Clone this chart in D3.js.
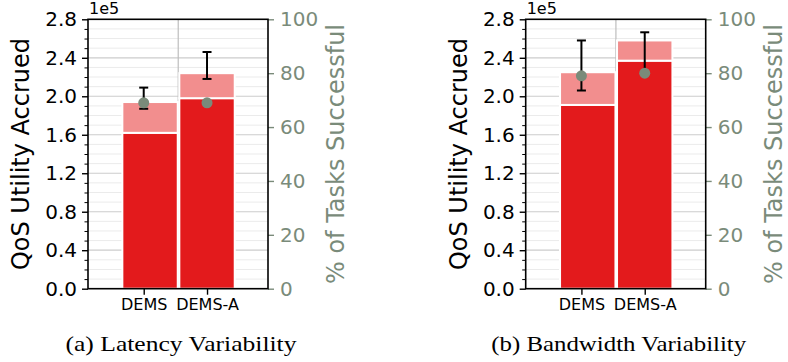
<!DOCTYPE html>
<html>
<head>
<meta charset="utf-8">
<script src="https://cdn.jsdelivr.net/npm/d3@7"></script>
<style>
  html, body { margin: 0; padding: 0; background: #fff; }
  svg { display: block; }
</style>
</head>
<body>
<svg id="chart" width="788" height="362"></svg>
<script>
// ---- data (utility in units of 1e5, success rate in %) ----
const categories = ["DEMS", "DEMS-A"];

const latencyUtilityBase  = [1.62, 1.98];
const latencyUtilityTotal = [1.94, 2.24];
const latencyErrLow       = [1.87, 2.18];
const latencyErrHigh      = [2.09, 2.46];
const latencySuccessPct   = [69, 69];

const bandwidthUtilityBase  = [1.91, 2.37];
const bandwidthUtilityTotal = [2.25, 2.58];
const bandwidthErrLow       = [2.06, 2.25];
const bandwidthErrHigh      = [2.58, 2.665];
const bandwidthSuccessPct   = [79, 80];

const utilityTicks = [0, 0.4, 0.8, 1.2, 1.6, 2.0, 2.4, 2.8];
const pctTicks = [0, 20, 40, 60, 80, 100];

const panels = [
  { caption: "(a) Latency Variability", base: latencyUtilityBase, total: latencyUtilityTotal,
    lo: latencyErrLow, hi: latencyErrHigh, pct: latencySuccessPct },
  { caption: "(b) Bandwidth Variability", base: bandwidthUtilityBase, total: bandwidthUtilityTotal,
    lo: bandwidthErrLow, hi: bandwidthErrHigh, pct: bandwidthSuccessPct }
];

// ---- styling ----
const RED = "#e31a1c", PINK = "#f28e8e", SAGE = "#7a8b7a";
const SANS = "DejaVu Sans, sans-serif";
const plotLefts = [88, 525.7];
const plotW = 180, plotTop = 19.3, plotBottom = 288.7;
const barWidth = 0.875;
const barShift = [0.1, 0];      // horizontal nudge of each bar from its tick
const gridX = 0.545;            // single vertical grid line

const svg = d3.select("#chart");

panels.forEach((p, pi) => {
  const left = plotLefts[pi];
  const g = svg.append("g");

  const x = d3.scaleLinear().domain([-0.88, 1.963]).range([left, left + plotW]);
  const y = d3.scaleLinear().domain([0, 2.8]).range([plotBottom, plotTop]);
  const yPct = d3.scaleLinear().domain([0, 100]).range([plotBottom, plotTop]);

  // horizontal grid: minor every 0.1, major every 0.4
  const minorVals = d3.range(1, 28).map(i => i / 10).filter(v => Math.abs(v / 0.4 - Math.round(v / 0.4)) > 1e-6);
  g.append("g").selectAll("line").data(minorVals).join("line")
    .attr("x1", left).attr("x2", left + plotW)
    .attr("y1", d => y(d)).attr("y2", d => y(d))
    .attr("stroke", "#ebebeb").attr("stroke-width", 1);
  g.append("g").selectAll("line").data(utilityTicks.slice(1, -1)).join("line")
    .attr("x1", left).attr("x2", left + plotW)
    .attr("y1", d => y(d)).attr("y2", d => y(d))
    .attr("stroke", "#cccccc").attr("stroke-width", 1.2);
  g.append("line")
    .attr("x1", x(gridX)).attr("x2", x(gridX))
    .attr("y1", plotTop).attr("y2", plotBottom)
    .attr("stroke", "#bdbdbd").attr("stroke-width", 1.2);

  // stacked bars
  const idx = categories.map((c, i) => i);
  g.append("g").selectAll("rect").data(idx).join("rect")
    .attr("x", i => x(i + barShift[i] - barWidth / 2))
    .attr("width", i => x(barWidth) - x(0))
    .attr("y", i => y(p.base[i]))
    .attr("height", i => y(0) - y(p.base[i]))
    .attr("fill", RED).attr("stroke", "#fff").attr("stroke-width", 2);
  g.append("g").selectAll("rect").data(idx).join("rect")
    .attr("x", i => x(i + barShift[i] - barWidth / 2))
    .attr("width", i => x(barWidth) - x(0))
    .attr("y", i => y(p.total[i]))
    .attr("height", i => y(p.base[i]) - y(p.total[i]))
    .attr("fill", PINK).attr("stroke", "#fff").attr("stroke-width", 2);

  // error bars
  const eb = g.append("g").attr("stroke", "#000").attr("stroke-width", 2);
  idx.forEach(i => {
    eb.append("line").attr("x1", x(i)).attr("x2", x(i)).attr("y1", y(p.lo[i])).attr("y2", y(p.hi[i]));
    [p.lo[i], p.hi[i]].forEach(v => {
      eb.append("line").attr("x1", x(i) - 4.5).attr("x2", x(i) + 4.5).attr("y1", y(v)).attr("y2", y(v));
    });
  });

  // success-rate markers
  g.append("g").selectAll("circle").data(idx).join("circle")
    .attr("cx", i => x(i)).attr("cy", i => yPct(p.pct[i])).attr("r", 5.5)
    .attr("fill", SAGE);

  // left axis
  const ax = g.append("g").attr("transform", `translate(${left},0)`)
    .call(d3.axisLeft(y).tickValues(utilityTicks).tickFormat(d3.format(".1f")).tickSize(6).tickPadding(5));
  ax.select(".domain").remove();
  ax.selectAll("line").attr("stroke", "#000").attr("stroke-width", 1.4);
  ax.selectAll("text").attr("font-family", SANS).attr("font-size", 20).attr("fill", "#000");
  const axMinor = g.append("g").attr("transform", `translate(${left},0)`)
    .call(d3.axisLeft(y).tickValues(minorVals).tickFormat("").tickSize(3.5));
  axMinor.select(".domain").remove();
  axMinor.selectAll("line").attr("stroke", "#000").attr("stroke-width", 1);

  // right axis
  const ar = g.append("g").attr("transform", `translate(${left + plotW},0)`)
    .call(d3.axisRight(yPct).tickValues(pctTicks).tickSize(6).tickPadding(6));
  ar.select(".domain").remove();
  ar.selectAll("line").attr("stroke", SAGE).attr("stroke-width", 1.4);
  ar.selectAll("text").attr("font-family", SANS).attr("font-size", 20).attr("fill", SAGE);

  // bottom axis
  const ab = g.append("g").attr("transform", `translate(0,${plotBottom})`)
    .call(d3.axisBottom(x).tickValues([0, 1]).tickFormat(i => categories[i]).tickSize(6).tickPadding(4));
  ab.select(".domain").remove();
  ab.selectAll("line").attr("stroke", "#000").attr("stroke-width", 1.4);
  ab.selectAll("text").attr("font-family", SANS).attr("font-size", 16).attr("fill", "#000");

  // frame
  g.append("rect").attr("x", left).attr("y", plotTop).attr("width", plotW).attr("height", plotBottom - plotTop)
    .attr("fill", "none").attr("stroke", "#000").attr("stroke-width", 1.6);

  // scale factor label
  g.append("text").attr("x", left + 1).attr("y", 14)
    .attr("font-family", SANS).attr("font-size", 16).text("1e5");

  // axis titles
  const midY = (plotTop + plotBottom) / 2;
  g.append("text").attr("transform", `translate(${left - 59},${midY}) rotate(-90)`)
    .attr("text-anchor", "middle").attr("font-family", SANS).attr("font-size", 24)
    .text("QoS Utility Accrued");
  g.append("text").attr("transform", `translate(${left + plotW + 76},${midY}) rotate(-90)`)
    .attr("text-anchor", "middle").attr("font-family", SANS).attr("font-size", 24).attr("fill", SAGE)
    .text("% of Tasks Successful");

  // caption
  g.append("text").attr("x", left + plotW / 2 + 3).attr("y", 351)
    .attr("text-anchor", "middle").attr("font-family", "Liberation Serif, serif").attr("font-size", 22)
    .attr("textLength", pi === 0 ? 231 : 255).attr("lengthAdjust", "spacingAndGlyphs")
    .text(p.caption);
});
</script>
</body>
</html>
